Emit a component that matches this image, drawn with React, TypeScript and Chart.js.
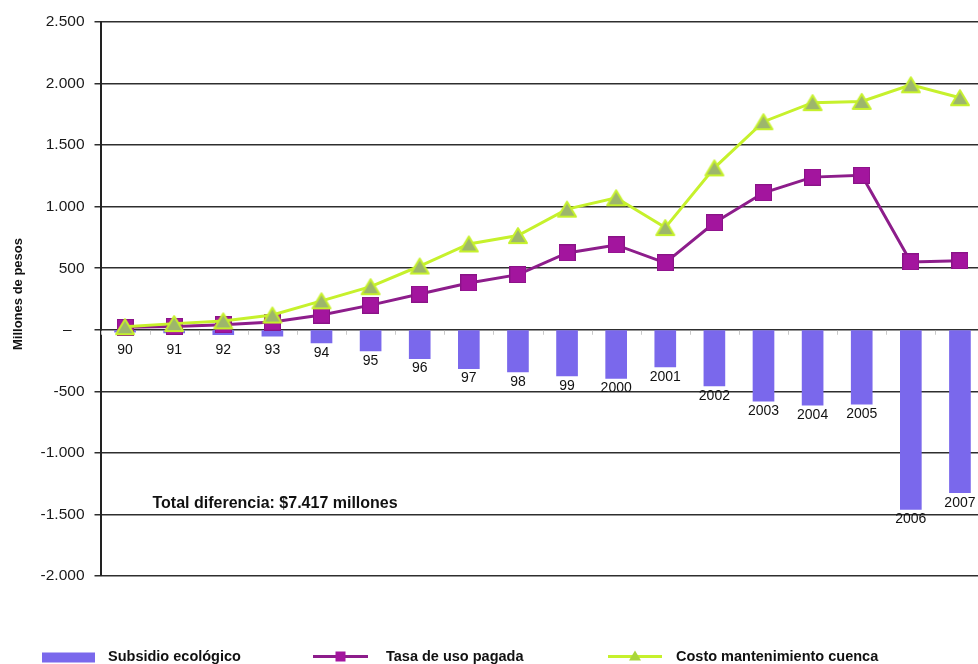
import React, { useEffect, useRef } from "react";
import { Chart, registerables } from "chart.js";

Chart.register(...registerables);

// Years shown along the zero line
const years = [
  "90", "91", "92", "93", "94", "95", "96", "97", "98", "99",
  "2000", "2001", "2002", "2003", "2004", "2005", "2006", "2007",
];

// Millones de pesos
const subsidioEcologico = [
  -20, -25, -40, -52, -107, -172, -234, -315, -342, -375,
  -396, -302, -456, -580, -613, -605, -1460, -1323,
];
const tasaUsoPagada = [
  20, 27, 40, 63, 120, 200, 290, 380, 448, 624,
  689, 544, 869, 1113, 1240, 1255, 551, 560,
];
const costoMantenimiento = [
  25, 50, 72, 120, 235, 350, 518, 697, 765, 980,
  1072, 830, 1315, 1690, 1845, 1855, 1990, 1885,
];

const yMin = -2000;
const yMax = 2500;
const yStep = 500;

const axisTitle = "Millones de pesos";
const totalNote = "Total diferencia: $7.417 millones";
const legendLabels = ["Subsidio ecológico", "Tasa de uso pagada", "Costo mantenimiento cuenca"];

const FONT = "'Liberation Sans', Arial, Helvetica, sans-serif";
const BAR_COLOR = "#7a68ec";
const PURPLE_LINE = "#8d1d8b";
const PURPLE_FILL = "#a3159e";
const LIME_LINE = "#c6f12c";
const TRI_FILL = "#9db66c";
const GRID = "#2e2e2e";

const CANVAS_W = 985;
const CANVAS_H = 664;

function formatTick(v: number): string {
  if (v === 0) return "–   ";
  const abs = Math.abs(v);
  const s = abs >= 1000 ? `${Math.floor(abs / 1000)}.${String(abs % 1000).padStart(3, "0")}` : String(abs);
  return (v < 0 ? "-" : "") + s;
}

function makeTriangle(w: number, h: number, fill: string, stroke: string, lw: number): HTMLCanvasElement {
  const c = document.createElement("canvas");
  c.width = w;
  c.height = h;
  const g = c.getContext("2d")!;
  g.beginPath();
  g.moveTo(w / 2, lw);
  g.lineTo(w - lw, h - lw);
  g.lineTo(lw, h - lw);
  g.closePath();
  g.fillStyle = fill;
  g.fill();
  g.lineWidth = lw;
  g.lineJoin = "round";
  g.strokeStyle = stroke;
  g.stroke();
  return c;
}

function makeSquare(s: number, fill: string, stroke: string): HTMLCanvasElement {
  const c = document.createElement("canvas");
  c.width = s;
  c.height = s;
  const g = c.getContext("2d")!;
  g.fillStyle = stroke;
  g.fillRect(0, 0, s, s);
  g.fillStyle = fill;
  g.fillRect(1, 1, s - 2, s - 2);
  return c;
}

const decorations = {
  id: "decorations",
  beforeDatasetsDraw(chart: any) {
    const { ctx, chartArea, scales } = chart;
    const x = scales.x;
    const y0 = scales.y.getPixelForValue(0);
    const half = (chartArea.right - chartArea.left) / years.length / 2;
    ctx.save();
    ctx.strokeStyle = "#c9c9c9";
    ctx.lineWidth = 1;
    for (let i = 0; i <= years.length; i++) {
      const px = Math.round(x.getPixelForValue(Math.min(i, years.length - 1)) + (i === years.length ? half : -half)) + 0.5;
      ctx.beginPath();
      ctx.moveTo(px, y0 + 1);
      ctx.lineTo(px, y0 + 5);
      ctx.stroke();
    }
    ctx.restore();
  },
  afterDraw(chart: any) {
    const { ctx, chartArea, scales } = chart;
    const yScale = scales.y;
    const y0 = yScale.getPixelForValue(0);
    ctx.save();

    // year labels under each bar
    const barMeta = chart.getDatasetMeta(2);
    ctx.font = `14px ${FONT}`;
    ctx.fillStyle = "#111";
    ctx.textAlign = "center";
    ctx.textBaseline = "middle";
    barMeta.data.forEach((bar: any, i: number) => {
      const ly = Math.max(bar.y + 10, y0 + 20);
      ctx.fillText(years[i], bar.x, ly);
    });

    // total note
    ctx.font = `bold 16px ${FONT}`;
    ctx.textAlign = "left";
    ctx.fillText(totalNote, chartArea.left + 52, yScale.getPixelForValue(-1410));

    // vertical axis title
    ctx.save();
    ctx.translate(18, (chartArea.top + chartArea.bottom) / 2 - 5);
    ctx.rotate(-Math.PI / 2);
    ctx.font = `bold 13px ${FONT}`;
    ctx.textAlign = "center";
    ctx.fillText(axisTitle, 0, 0);
    ctx.restore();

    // legend
    const ly = 656.5;
    ctx.font = `bold 14.5px ${FONT}`;
    ctx.textAlign = "left";
    ctx.fillStyle = BAR_COLOR;
    ctx.fillRect(42, 652.5, 53, 10);
    ctx.fillStyle = "#111";
    ctx.fillText(legendLabels[0], 108, ly);

    ctx.strokeStyle = PURPLE_LINE;
    ctx.lineWidth = 3;
    ctx.beginPath();
    ctx.moveTo(313, ly);
    ctx.lineTo(368, ly);
    ctx.stroke();
    ctx.fillStyle = PURPLE_FILL;
    ctx.fillRect(335.5, ly - 5, 10, 10);
    ctx.fillStyle = "#111";
    ctx.fillText(legendLabels[1], 386, ly);

    ctx.strokeStyle = LIME_LINE;
    ctx.beginPath();
    ctx.moveTo(608, ly);
    ctx.lineTo(662, ly);
    ctx.stroke();
    ctx.fillStyle = "#a9d63a";
    ctx.beginPath();
    ctx.moveTo(635, ly - 6);
    ctx.lineTo(641, ly + 4);
    ctx.lineTo(629, ly + 4);
    ctx.closePath();
    ctx.fill();
    ctx.fillStyle = "#111";
    ctx.fillText(legendLabels[2], 676, ly);

    ctx.restore();
  },
};

export default function App() {
  const canvasRef = useRef<HTMLCanvasElement | null>(null);

  useEffect(() => {
    if (!canvasRef.current) return;
    Chart.defaults.font.family = FONT;
    const triangle = makeTriangle(22, 19, TRI_FILL, LIME_LINE, 2);
    const square = makeSquare(17, PURPLE_FILL, "#8a1387");

    const chart = new Chart(canvasRef.current, {
      type: "bar",
      data: {
        labels: years,
        datasets: [
          {
            type: "line",
            label: legendLabels[2],
            data: costoMantenimiento,
            borderColor: LIME_LINE,
            backgroundColor: LIME_LINE,
            borderWidth: 3,
            tension: 0,
            pointStyle: triangle as any,
            pointRadius: 10,
            order: 1,
          },
          {
            type: "line",
            label: legendLabels[1],
            data: tasaUsoPagada,
            borderColor: PURPLE_LINE,
            backgroundColor: PURPLE_FILL,
            borderWidth: 3,
            tension: 0,
            pointStyle: square as any,
            pointRadius: 10,
            order: 2,
          },
          {
            type: "bar",
            label: legendLabels[0],
            data: subsidioEcologico,
            backgroundColor: BAR_COLOR,
            barThickness: 21,
            order: 3,
          },
        ],
      },
      options: {
        responsive: false,
        animation: false,
        devicePixelRatio: 1,
        layout: {
          autoPadding: false,
          padding: { top: 22, bottom: 88, left: 0, right: 0.5 },
        },
        plugins: {
          legend: { display: false },
          tooltip: { enabled: false },
        },
        scales: {
          x: { display: false, offset: true, ticks: { display: false } },
          y: {
            min: yMin,
            max: yMax,
            ticks: {
              stepSize: yStep,
              color: "#1a1a1a",
              font: { size: 15.5, family: FONT },
              padding: 10,
              callback: (v: any) => formatTick(Number(v)),
            },
            grid: { color: GRID, lineWidth: 1.5, tickLength: 6 },
            border: { color: "#222", width: 2 },
            afterFit: (scale: any) => {
              scale.width = 100.5;
            },
          },
        },
      },
      plugins: [decorations],
    });

    return () => chart.destroy();
  }, []);

  return (
    <div
      style={{
        position: "fixed",
        left: 0,
        top: 0,
        width: 978,
        height: 664,
        overflow: "hidden",
        background: "#fff",
      }}
    >
      <canvas
        ref={canvasRef}
        width={CANVAS_W}
        height={CANVAS_H}
        style={{ display: "block", width: CANVAS_W, height: CANVAS_H }}
      />
    </div>
  );
}
